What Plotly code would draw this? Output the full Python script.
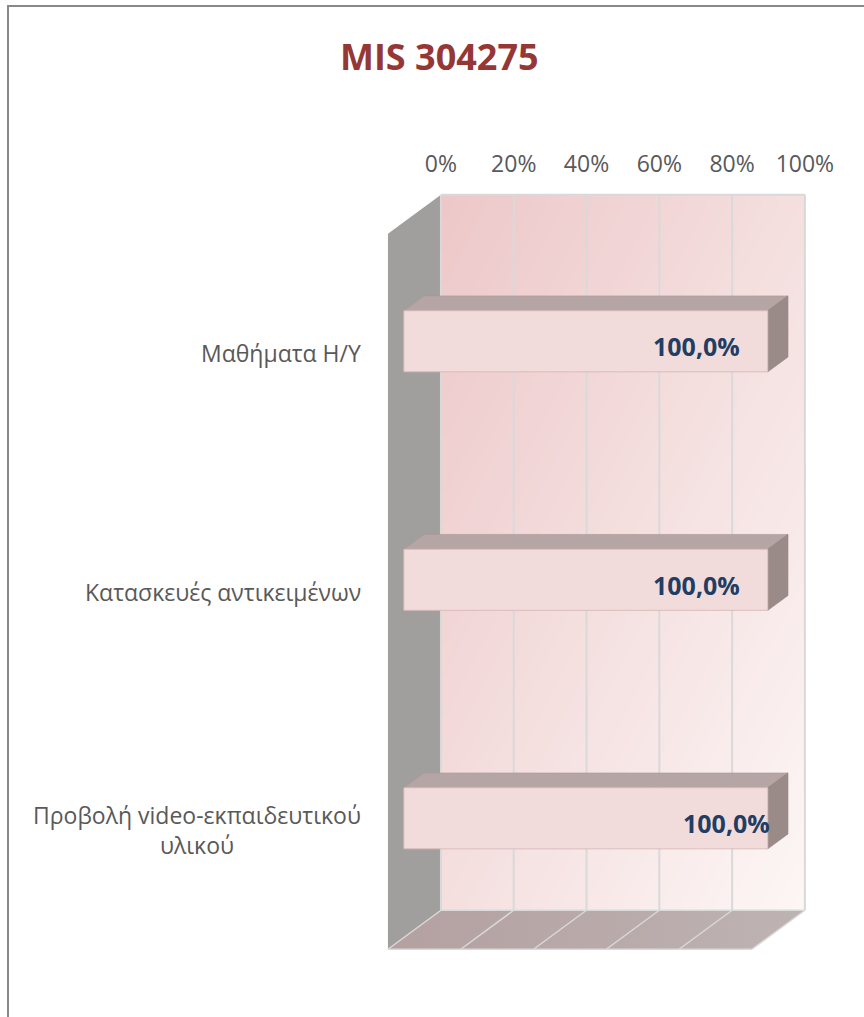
import numpy as np
import plotly.graph_objects as go

# ---- data -------------------------------------------------------------
TITLE = "MIS 304275"
categories = [
    "Μαθήματα Η/Υ",
    "Κατασκευές αντικειμένων",
    "Προβολή video-εκπαιδευτικού<br>υλικού",
]
values = [100.0, 100.0, 100.0]
tick_values = [0, 20, 40, 60, 80, 100]
tick_labels = ["0%", "20%", "40%", "60%", "80%", "100%"]

# ---- 3D look: oblique projection -------------------------------------
DX = 14.56          # x shift (percent units) across the full depth
DY = 0.1635         # upward shift (category units) across the full depth
BAR_T0, BAR_T1 = 0.30, 0.68   # depth slice occupied by the bars
BAR_HALF = 0.128              # half thickness of a bar (category units)
Y_TOP, Y_BOT = -0.5, len(categories) - 0.5
X_MAX = 100

X_RANGE = [-106.6, 130.8]
Y_RANGE = [2.784, -1.480]     # reversed: first category on top

# label nudges (pixels) for the value labels
LABEL_XSHIFT = [-26, -26, 4]
LABEL_YSHIFT = -5

FONT = "Open Sans"
GREY_TXT = "#595959"
GRID = "#D9D9D9"


def P(x, y, t):
    """Project a point at depth t (0 = front, 1 = back wall)."""
    return x + DX * t, y - DY * t


def face(points, color, line_color="rgba(0,0,0,0)", line_width=0, gradient=None):
    xs = [p[0] for p in points] + [points[0][0]]
    ys = [p[1] for p in points] + [points[0][1]]
    kw = dict(fillcolor=color)
    if gradient is not None:
        kw = dict(fillgradient=dict(type="horizontal",
                                    colorscale=[[0, gradient[0]], [1, gradient[1]]]))
    return go.Scatter(x=xs, y=ys, mode="lines", fill="toself",
                      line=dict(color=line_color, width=line_width),
                      hoverinfo="skip", showlegend=False, **kw)


def segments(pairs, color, width):
    xs, ys = [], []
    for a, b in pairs:
        xs += [a[0], b[0], None]
        ys += [a[1], b[1], None]
    return go.Scatter(x=xs, y=ys, mode="lines", line=dict(color=color, width=width),
                      hoverinfo="skip", showlegend=False)


fig = go.Figure()

# back wall with a diagonal pink gradient
n = 40
xe = np.linspace(DX, X_MAX + DX, n + 1)
ye = np.linspace(Y_TOP - DY, Y_BOT - DY, n + 1)
u = (np.arange(n) + 0.5) / n
v = (np.arange(n) + 0.5) / n
z = v[:, None] + u[None, :]
fig.add_trace(go.Heatmap(x=xe, y=ye, z=z, zsmooth="best", showscale=False,
                         colorscale=[[0, "#EDC8C9"], [1, "#FCF6F5"]],
                         hoverinfo="skip"))

# left side wall
fig.add_trace(face([P(0, Y_TOP, 0), P(0, Y_TOP, 1), P(0, Y_BOT, 1), P(0, Y_BOT, 0)],
                   "#A09F9E"))

# floor
fig.add_trace(face([P(0, Y_BOT, 0), P(X_MAX, Y_BOT, 0), P(X_MAX, Y_BOT, 1), P(0, Y_BOT, 1)],
                   "#B6A4A4", gradient=("#B4A0A0", "#BEB3B3")))
floor_lines = [(P(t, Y_BOT, 0), P(t, Y_BOT, 1)) for t in tick_values]
floor_lines += [(P(0, Y_BOT, 0), P(X_MAX, Y_BOT, 0)),
                (P(0, Y_BOT, 1), P(X_MAX, Y_BOT, 1))]
fig.add_trace(segments(floor_lines, GRID, 1.5))

# back wall grid lines and top edge
wall_lines = [(P(t, Y_TOP, 1), P(t, Y_BOT, 1)) for t in tick_values]
wall_lines.append((P(0, Y_TOP, 1), P(X_MAX, Y_TOP, 1)))
fig.add_trace(segments(wall_lines, GRID, 2))

# bars: top face, end face, front face
for i, val in enumerate(values):
    y0, y1 = i - BAR_HALF, i + BAR_HALF
    fig.add_trace(face([P(0, y0, BAR_T0), P(val, y0, BAR_T0), P(val, y0, BAR_T1), P(0, y0, BAR_T1)],
                       "#B6A5A5", "rgba(170,150,150,0.6)", 1))
    fig.add_trace(face([P(val, y0, BAR_T0), P(val, y1, BAR_T0), P(val, y1, BAR_T1), P(val, y0, BAR_T1)],
                       "#9A8B89", "rgba(140,125,123,0.6)", 1))
    fig.add_trace(face([P(0, y0, BAR_T0), P(val, y0, BAR_T0), P(val, y1, BAR_T0), P(0, y1, BAR_T0)],
                       "#F2DCDB", "rgba(215,185,184,0.9)", 1))

# carrier trace for the top percentage axis
fig.add_trace(go.Scatter(x=[None], y=[None], xaxis="x2", yaxis="y",
                         showlegend=False, hoverinfo="skip"))

# category labels
for i, cat in enumerate(categories):
    fig.add_annotation(x=0, y=i, xref="x", yref="y", text=cat, showarrow=False,
                       xanchor="right", yanchor="middle", align="center", xshift=-25,
                       font=dict(family=FONT, size=23, color=GREY_TXT))

# value labels
for i, val in enumerate(values):
    lx, ly = P(val, i, BAR_T0)
    txt = f"{val:.1f}".replace(".", ",") + "%"
    fig.add_annotation(x=lx, y=ly, xref="x", yref="y", text=f"<b>{txt}</b>",
                       showarrow=False, xanchor="right", yanchor="middle",
                       xshift=LABEL_XSHIFT[i], yshift=LABEL_YSHIFT,
                       font=dict(family=FONT, size=25, color="#213D64"))

# title
fig.add_annotation(x=439 / 864, y=1 - 56 / 1017, xref="paper", yref="paper",
                   text=f"<b>{TITLE}</b>", showarrow=False,
                   xanchor="center", yanchor="middle",
                   font=dict(family=FONT, size=36, color="#953735"))

# chart frame
fig.add_shape(type="rect", xref="paper", yref="paper",
              x0=8 / 864, x1=1.05, y0=-0.05, y1=1 - 6 / 1017,
              line=dict(color="#898989", width=2), fillcolor="rgba(0,0,0,0)")

wall_top_paper = (Y_RANGE[0] - (Y_TOP - DY)) / (Y_RANGE[0] - Y_RANGE[1])

fig.update_layout(
    width=864, height=1017,
    margin=dict(l=0, r=0, t=0, b=0),
    paper_bgcolor="white", plot_bgcolor="white",
    showlegend=False,
    xaxis=dict(range=X_RANGE, visible=False, fixedrange=True),
    yaxis=dict(range=Y_RANGE, visible=False, fixedrange=True),
    xaxis2=dict(range=[X_RANGE[0] - DX, X_RANGE[1] - DX], overlaying="x",
                side="top", anchor="free", position=wall_top_paper,
                tickvals=tick_values, ticktext=tick_labels,
                ticks="outside", ticklen=14, tickcolor="rgba(0,0,0,0)",
                showgrid=False, zeroline=False, showline=False,
                tickfont=dict(family=FONT, size=23, color=GREY_TXT),
                fixedrange=True),
)

fig.write_html("out.html")
